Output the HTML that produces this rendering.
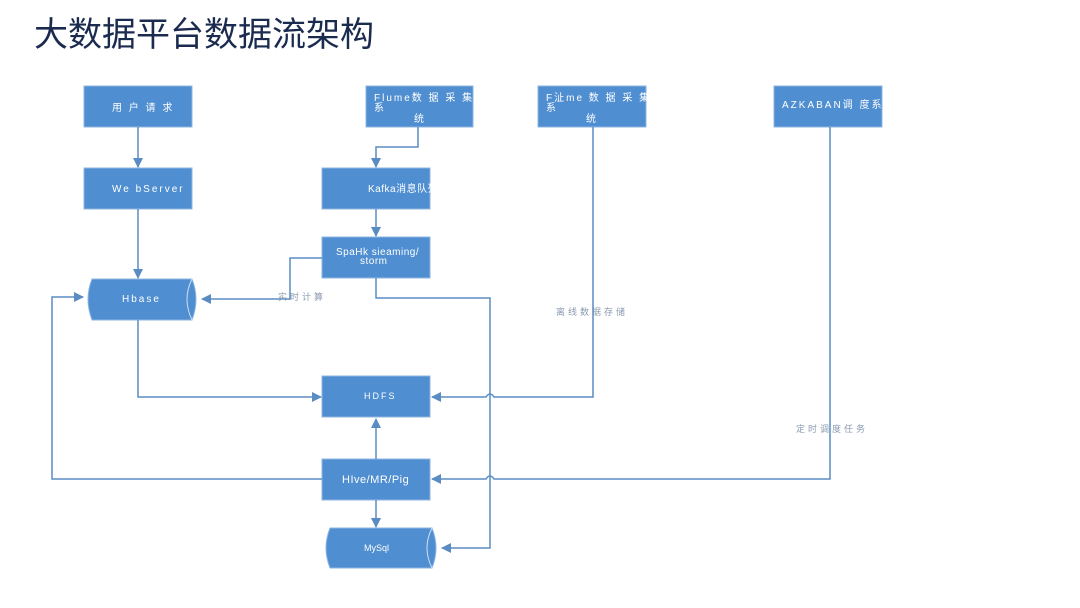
<!DOCTYPE html>
<html><head><meta charset="utf-8"><style>
html,body{margin:0;padding:0;background:#fff;width:1080px;height:608px;overflow:hidden}
svg text{font-family:"Liberation Sans","Noto Sans CJK SC",sans-serif}
</style></head><body>
<svg width="1080" height="608" viewBox="0 0 1080 608" xmlns="http://www.w3.org/2000/svg">
<defs>
<marker id="a" markerWidth="10" markerHeight="10" refX="9" refY="5" orient="auto" markerUnits="userSpaceOnUse">
<path d="M0,0 L10,5 L0,10 z" fill="#5a8cc4"/></marker>
</defs>
<text x="34" y="46" font-size="34" fill="#1b2b4f" style="font-family:'Noto Sans CJK SC',sans-serif">大数据平台数据流架构</text>
<g fill="#4f8ed0" stroke="#8fb6e0" stroke-width="1">
<rect x="84" y="86" width="108" height="41"/>
<rect x="84" y="168" width="108" height="41"/>
<rect x="366" y="86" width="107" height="41"/>
<rect x="322" y="168" width="108" height="41"/>
<rect x="322" y="237" width="108" height="41"/>
<rect x="538" y="86" width="108" height="41"/>
<rect x="774" y="86" width="108" height="41"/>
<rect x="322" y="376" width="108" height="41"/>
<rect x="322" y="459" width="108" height="41"/>
<path d="M92,279 L192,279 Q200,299 192,320 L92,320 Q84,299 92,279 z"/>
<path d="M330,528 L432,528 Q440,548 432,568 L330,568 Q322,548 330,528 z"/>
</g>
<g fill="none" stroke="#cfe0f2" stroke-width="1">
<path d="M192,279 Q182,299 192,320"/>
<path d="M432,528 Q422,548 432,568"/>
</g>
<g fill="none" stroke="#5a8cc4" stroke-width="1.5">
<path d="M138,127 V167" marker-end="url(#a)"/>
<path d="M138,209 V278" marker-end="url(#a)"/>
<path d="M418,127 V147 H376 V167" marker-end="url(#a)"/>
<path d="M376,209 V236" marker-end="url(#a)"/>
<path d="M322,258 H290 V299 H202" marker-end="url(#a)"/>
<path d="M376,278 V298 H490 V548 H442" marker-end="url(#a)"/>
<path d="M138,320 V397 H321" marker-end="url(#a)"/>
<path d="M593,127 V397 H494 Q490,391 486,397 H432" marker-end="url(#a)"/>
<path d="M830,127 V479 H494 Q490,473 486,479 H432" marker-end="url(#a)"/>
<path d="M376,459 V419" marker-end="url(#a)"/>
<path d="M376,500 V527" marker-end="url(#a)"/>
<path d="M322,479 H52 V297 H83" marker-end="url(#a)"/>
</g>
<g fill="#fff" font-size="10" letter-spacing="2">
<text x="112" y="111">用 户 请 求</text>
<text x="112" y="192">We bServer</text>
<text x="374" y="101">Flume数 据 采 集</text>
<text x="374" y="111">系</text>
<text x="414" y="122">统</text>
<text x="368" y="192" letter-spacing="0.5">Kafka消息队列</text>
<text x="336" y="255" letter-spacing="0.5">SpaHk sieaming/</text>
<text x="360" y="264" letter-spacing="0.5">storm</text>
<text x="546" y="101">F沚me 数 据 采 集</text>
<text x="546" y="111">系</text>
<text x="586" y="122">统</text>
<text x="782" y="108">AZKABAN调 度系统</text>
<text x="122" y="302">Hbase</text>
<text x="364" y="399" font-size="9">HDFS</text>
<text x="342" y="483" letter-spacing="0.5" font-size="11">HIve/MR/Pig</text>
<text x="364" y="551" font-size="9" letter-spacing="0">MySql</text>
</g>
<g fill="#8a9bb0" font-size="9" letter-spacing="3">
<text x="278" y="300">实时计算</text>
<text x="556" y="315">离线数据存储</text>
<text x="796" y="432">定时调度任务</text>
</g>
</svg>
</body></html>
